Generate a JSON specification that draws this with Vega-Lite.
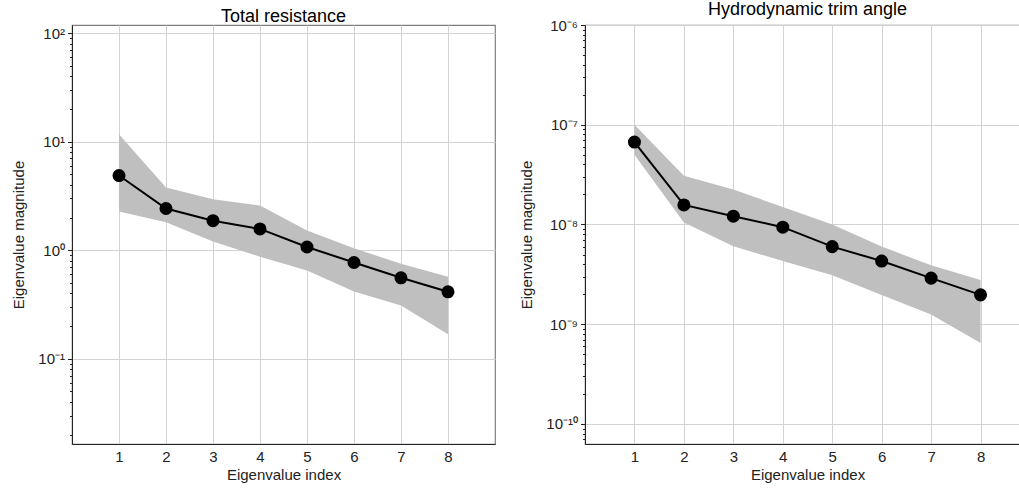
{
  "$schema": "https://vega.github.io/schema/vega-lite/v6.json",
  "background": "white",
  "padding": {"top": 0, "left": 11, "right": 0, "bottom": 0},
  "spacing": 23,
  "config": {
    "font": "Liberation Sans",
    "view": {"stroke": "#7f7f7f", "strokeWidth": 1.2},
    "title": {"fontSize": 18, "fontWeight": "normal", "color": "#000", "offset": -1, "font": "Liberation Sans"},
    "axis": {
      "labelFont": "Liberation Sans", "titleFont": "Liberation Sans",
      "labelFontSize": 15, "titleFontSize": 15, "titleFontWeight": "normal",
      "labelColor": "#222", "titleColor": "#222",
      "domainColor": "#222", "tickColor": "#222",
      "gridColor": "#d3d3d3", "gridWidth": 1, "gridOpacity": 1
    }
  },
  "datasets": {
    "eig": [
      {"panel": "Total resistance", "index": 1, "mean": 4.87, "lo": 2.27, "hi": 11.7},
      {"panel": "Total resistance", "index": 2, "mean": 2.42, "lo": 1.81, "hi": 3.78},
      {"panel": "Total resistance", "index": 3, "mean": 1.87, "lo": 1.2, "hi": 2.94},
      {"panel": "Total resistance", "index": 4, "mean": 1.57, "lo": 0.87, "hi": 2.58},
      {"panel": "Total resistance", "index": 5, "mean": 1.07, "lo": 0.65, "hi": 1.52},
      {"panel": "Total resistance", "index": 6, "mean": 0.77, "lo": 0.417, "hi": 1.04},
      {"panel": "Total resistance", "index": 7, "mean": 0.557, "lo": 0.31, "hi": 0.75},
      {"panel": "Total resistance", "index": 8, "mean": 0.414, "lo": 0.168, "hi": 0.57},
      {"panel": "Hydrodynamic trim angle", "index": 1, "mean": 6.7e-8, "lo": 5.0e-8, "hi": 1.0e-7},
      {"panel": "Hydrodynamic trim angle", "index": 2, "mean": 1.57e-8, "lo": 1.05e-8, "hi": 3.08e-8},
      {"panel": "Hydrodynamic trim angle", "index": 3, "mean": 1.21e-8, "lo": 6.05e-9, "hi": 2.24e-8},
      {"panel": "Hydrodynamic trim angle", "index": 4, "mean": 9.4e-9, "lo": 4.3e-9, "hi": 1.5e-8},
      {"panel": "Hydrodynamic trim angle", "index": 5, "mean": 6.0e-9, "lo": 3.1e-9, "hi": 1.0e-8},
      {"panel": "Hydrodynamic trim angle", "index": 6, "mean": 4.3e-9, "lo": 1.96e-9, "hi": 6.0e-9},
      {"panel": "Hydrodynamic trim angle", "index": 7, "mean": 2.9e-9, "lo": 1.25e-9, "hi": 3.9e-9},
      {"panel": "Hydrodynamic trim angle", "index": 8, "mean": 1.97e-9, "lo": 6.5e-10, "hi": 2.77e-9}
    ]
  },
  "hconcat": [
    {
      "title": "Total resistance",
      "width": 423,
      "height": 419,
      "data": {"name": "eig"},
      "transform": [{"filter": "datum.panel == 'Total resistance'"}],
      "resolve": {"axis": {"y": "independent"}},
      "layer": [
        {
          "mark": {"type": "area", "color": "#bfbfbf", "opacity": 1},
          "encoding": {
            "x": {"field": "index", "type": "quantitative", "scale": {"domain": [0, 9], "nice": false, "zero": false},
              "axis": {"values": [1, 2, 3, 4, 5, 6, 7, 8], "title": "Eigenvalue index", "tickSize": 0, "labelPadding": 5, "titlePadding": 3, "format": "d"}},
            "y": {"field": "lo", "type": "quantitative",
              "scale": {"type": "log", "domain": [0.0164, 118.6], "nice": false},
              "axis": {"orient": "left", "values": [0.02, 0.03, 0.04, 0.05, 0.06, 0.07, 0.08, 0.09, 0.2, 0.3, 0.4, 0.5, 0.6, 0.7, 0.8, 0.9, 2, 3, 4, 5, 6, 7, 8, 9, 20, 30, 40, 50, 60, 70, 80, 90],
                "labels": false, "grid": false, "domain": false, "tickSize": 2.5, "title": null}},
            "y2": {"field": "hi"}
          }
        },
        {
          "mark": {"type": "line", "color": "#000", "strokeWidth": 2},
          "encoding": {
            "x": {"field": "index", "type": "quantitative"},
            "y": {"field": "mean", "type": "quantitative",
              "axis": {"orient": "left", "grid": true, "values": [0.1, 1, 10, 100], "tickSize": 4.5, "labelPadding": 3, "titlePadding": 11,
                "title": "Eigenvalue magnitude",
                "labelExpr": "datum.value > 50 ? '10²' : datum.value > 5 ? '10¹' : datum.value > 0.5 ? '10⁰' : '10⁻¹'"}}
          }
        },
        {
          "mark": {"type": "point", "filled": true, "color": "#000", "size": 170, "opacity": 1},
          "encoding": {
            "x": {"field": "index", "type": "quantitative"},
            "y": {"field": "mean", "type": "quantitative", "axis": null}
          }
        }
      ]
    },
    {
      "title": "Hydrodynamic trim angle",
      "width": 445,
      "height": 419,
      "data": {"name": "eig"},
      "transform": [{"filter": "datum.panel == 'Hydrodynamic trim angle'"}],
      "resolve": {"axis": {"y": "independent"}},
      "layer": [
        {
          "mark": {"type": "area", "color": "#bfbfbf", "opacity": 1},
          "encoding": {
            "x": {"field": "index", "type": "quantitative", "scale": {"domain": [0, 9], "nice": false, "zero": false},
              "axis": {"values": [1, 2, 3, 4, 5, 6, 7, 8], "title": "Eigenvalue index", "tickSize": 0, "labelPadding": 5, "titlePadding": 3, "format": "d"}},
            "y": {"field": "lo", "type": "quantitative",
              "scale": {"type": "log", "domain": [6.3e-11, 1e-6], "nice": false},
              "axis": {"orient": "left", "values": [7e-11, 8e-11, 9e-11, 2e-10, 3e-10, 4e-10, 5e-10, 6e-10, 7e-10, 8e-10, 9e-10, 2e-9, 3e-9, 4e-9, 5e-9, 6e-9, 7e-9, 8e-9, 9e-9, 2e-8, 3e-8, 4e-8, 5e-8, 6e-8, 7e-8, 8e-8, 9e-8, 2e-7, 3e-7, 4e-7, 5e-7, 6e-7, 7e-7, 8e-7, 9e-7],
                "labels": false, "grid": false, "domain": false, "tickSize": 2.5, "title": null}},
            "y2": {"field": "hi"}
          }
        },
        {
          "mark": {"type": "line", "color": "#000", "strokeWidth": 2},
          "encoding": {
            "x": {"field": "index", "type": "quantitative"},
            "y": {"field": "mean", "type": "quantitative",
              "axis": {"orient": "left", "grid": true, "values": [1e-10, 1e-9, 1e-8, 1e-7, 1e-6], "tickSize": 4.5, "labelPadding": 3, "titlePadding": 11,
                "title": "Eigenvalue magnitude",
                "labelExpr": "datum.value > 5e-7 ? '10⁻⁶' : datum.value > 5e-8 ? '10⁻⁷' : datum.value > 5e-9 ? '10⁻⁸' : datum.value > 5e-10 ? '10⁻⁹' : '10⁻¹⁰'"}}
          }
        },
        {
          "mark": {"type": "point", "filled": true, "color": "#000", "size": 170, "opacity": 1},
          "encoding": {
            "x": {"field": "index", "type": "quantitative"},
            "y": {"field": "mean", "type": "quantitative", "axis": null}
          }
        }
      ]
    }
  ]
}
